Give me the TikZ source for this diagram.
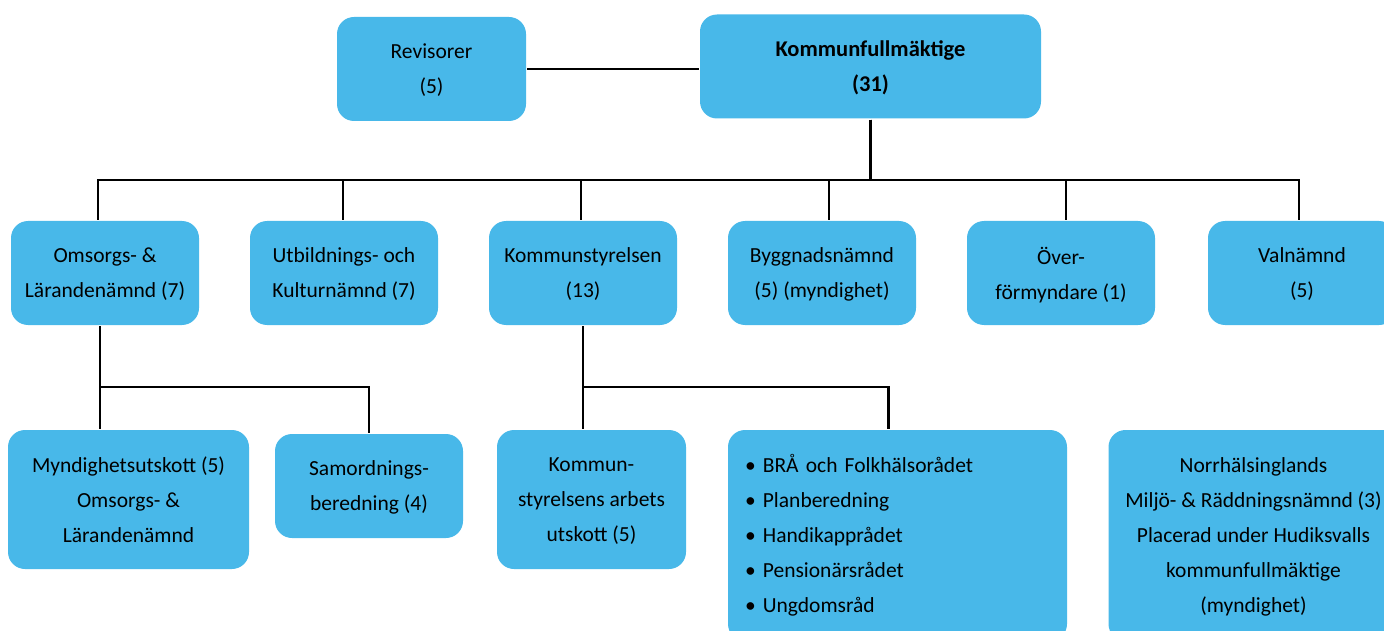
\documentclass[tikz,border=0pt]{standalone}
\usepackage{fontspec}
\setmainfont{Carlito}
\definecolor{boxblue}{RGB}{72,184,233}

\begin{document}
\begin{tikzpicture}[x=1pt, y=-1pt,
    line width=2.8pt,
    box/.style = {
      fill = boxblue,
      rounded corners = 17pt,
      inner sep = 0pt,
      minimum width = 188pt,
      minimum height = 104pt,
      align = center,
      text depth = -7pt,
      font = \fontsize{21.5}{35}\selectfont
    },
    listbox/.style = {
      box,
      text depth = {},
      align = left,
      execute at begin node = {\rule{0pt}{19pt}},
      execute at end node = {\rule[-5pt]{0pt}{5pt}}
    }
  ]
  \useasboundingbox (0,0) rectangle (1384,631);
  \clip (0,0) rectangle (1384,631);

  \coordinate (bus) at (0,180);
  \coordinate (sub) at (0,387);

  % top
  \node[box, minimum width=189pt] (rev) at (431.5,69) {Revisorer\\(5)};
  \node[box, minimum width=341pt, font=\fontsize{22.5}{35}\selectfont\bfseries] (kf) at (870.5,66.5) {Kommunfullmäktige\\(31)};

  % second row
  \node[box] (oln) at (105,273)  {Omsorgs- \&\\Lärandenämnd (7)};
  \node[box] (ukn) at (344,273)  {Utbildnings- och\\Kulturnämnd (7)};
  \node[box] (ks)  at (583,273)  {Kommunstyrelsen\\(13)};
  \node[box] (bn)  at (822,273)  {Byggnadsnämnd\\(5) (myndighet)};
  \node[box] (of)  at (1061,273) {Över-\\förmyndare (1)};
  \node[box] (vn)  at (1302,273) {Valnämnd\\(5)};

  % third row
  \node[box, minimum width=241pt, minimum height=139pt] (mu) at (128.5,499.5) {Myndighetsutskott (5)\\Omsorgs- \&\\Lärandenämnd};
  \node[box] (sb) at (369,486) {Samordnings-\\beredning (4)};
  \node[box, minimum width=189pt, minimum height=139pt] (ksau) at (591.5,499.5) {Kommun-\\styrelsens arbets\\utskott (5)};
  \node[listbox, minimum width=339pt, minimum height=211pt, text width=305pt] (rad) at (897.5,535.5)
    {\textbullet\ BRÅ och Folkhälsorådet\\\textbullet\ Planberedning\\\textbullet\ Handikapprådet\\\textbullet\ Pensionärsrådet\\\textbullet\ Ungdomsråd};
  \node[box, minimum width=290pt, minimum height=211pt] (nh) at (1253.5,535.5)
    {Norrhälsinglands\\Miljö- \& Räddningsnämnd (3)\\Placerad under Hudiksvalls\\kommunfullmäktige\\(myndighet)};

  % connectors
  \draw (rev.east) -- (kf.west |- rev.east);
  \foreach \c/\dx in {oln/-7,ukn/-1,ks/-2,bn/7,of/5,vn/-3}
    \draw (kf.south) |- ([xshift=\dx pt]\c.north |- bus) -- ([xshift=\dx pt]\c.north);

  \draw ([xshift=-5pt]oln.south) -- ([xshift=-5pt]oln.south |- mu.north);
  \draw ([xshift=-5pt]oln.south) |- (sb.north |- sub) -- (sb.north);
  \draw (ks.south) -- (ks.south |- ksau.north);
  \draw (ks.south) |- ([xshift=-9pt]rad.north |- sub) -- ([xshift=-9pt]rad.north);
\end{tikzpicture}
\end{document}
